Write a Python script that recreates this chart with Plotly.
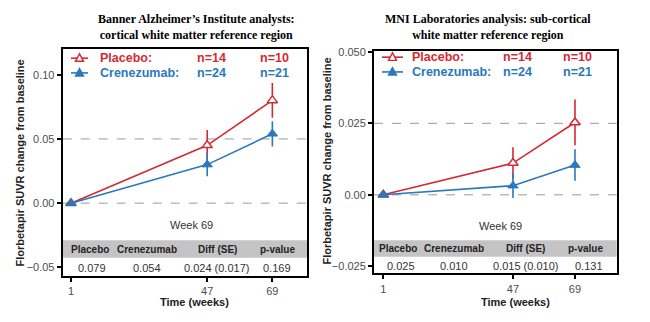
import plotly.graph_objects as go

# ---------------- data ----------------
weeks = [1, 47, 69]
week_ticks = [1, 47, 69]
week_ticktext = ["1", "47", "69"]

left_placebo = [0.0, 0.045, 0.080]
left_placebo_se = [0.0, 0.012, 0.0135]
left_crenezumab = [0.0, 0.030, 0.054]
left_crenezumab_se = [0.0, 0.009, 0.0098]

right_placebo = [0.0, 0.0111, 0.0253]
right_placebo_se = [0.0, 0.0055, 0.008]
right_crenezumab = [0.0, 0.0032, 0.0104]
right_crenezumab_se = [0.0, 0.0043, 0.0055]

left_yticks = [-0.05, 0.0, 0.05, 0.10]
left_yticktext = ["\u22120.05", "0.00", "0.05", "0.10"]
right_yticks = [-0.025, 0.0, 0.025, 0.050]
right_yticktext = ["\u22120.025", "0.00", "0.025", "0.050"]

left_grid = [0.0, 0.05]
right_grid = [0.0, 0.025]

n_placebo = ["n=14", "n=10"]
n_crenezumab = ["n=24", "n=21"]

table_header = ["Placebo", "Crenezumab", "Diff (SE)", "p-value"]
left_table = ["0.079", "0.054", "0.024 (0.017)", "0.169"]
right_table = ["0.025", "0.010", "0.015 (0.010)", "0.131"]

left_title = "Banner Alzheimer\u2019s Institute analysts:<br>cortical white matter reference region"
right_title = "MNI Laboratories analysis: sub-cortical<br>white matter reference region"
y_title = "Florbetapir SUVR change from baseline"
x_title = "Time (weeks)"

# ---------------- style ----------------
W, H = 650, 322
RED = "#d42a34"
BLUE = "#2a78bd"
SANS = "Liberation Sans, Arial, sans-serif"
SERIF = "Liberation Serif, Times New Roman, serif"


def px(x):
    return x / W


def py(y):
    return 1 - y / H


fig = go.Figure()

panels = [
    dict(xa="x", ya="y", xd=[62.7, 307.3], yd=[44.7, 275], xr=[-1.8, 80.8], yr=[-0.0565, 0.12],
         pl=left_placebo, pls=left_placebo_se, cr=left_crenezumab, crs=left_crenezumab_se,
         yt=left_yticks, ytt=left_yticktext, grid=left_grid, tbl=left_table,
         title=left_title, title_x=196.7, ytitle_x=19, ytitle_y=161, xtitle_x=194,
         week_x=191, week_y=223,
         band=[239, 256.7], head_y=248, val_y=267,
         head_x=[90, 147, 217, 277], val_x=[91.7, 146.7, 216.7, 276.7],
         leg_line=[71, 88], leg_y=[54, 69], leg_text_x=98, n_x=[195, 258]),
    dict(xa="x2", ya="y2", xd=[374, 616.7], yd=[46.7, 272.7], xr=[-2.3, 83.8], yr=[-0.0275, 0.0503],
         pl=right_placebo, pls=right_placebo_se, cr=right_crenezumab, crs=right_crenezumab_se,
         yt=right_yticks, ytt=right_yticktext, grid=right_grid, tbl=right_table,
         title=right_title, title_x=487.5, ytitle_x=327, ytitle_y=159, xtitle_x=515,
         week_x=500, week_y=224,
         band=[239, 255.7], head_y=247, val_y=265,
         head_x=[397.7, 454.3, 525.7, 585], val_x=[401, 454, 525.7, 589],
         leg_line=[382, 403], leg_y=[53, 68], leg_text_x=410, n_x=[501, 561]),
]

shapes = []
annotations = []

for i, p in enumerate(panels):
    xa, ya = p["xa"], p["ya"]
    # traces
    fig.add_trace(go.Scatter(
        x=weeks, y=p["pl"], xaxis=xa, yaxis=ya, mode="lines+markers", showlegend=False,
        line=dict(color=RED, width=1.6),
        marker=dict(symbol="triangle-up", size=9, color="white", line=dict(color=RED, width=1.5)),
        error_y=dict(type="data", array=p["pls"], color=RED, thickness=1.6, width=0),
        cliponaxis=False,
    ))
    fig.add_trace(go.Scatter(
        x=weeks, y=p["cr"], xaxis=xa, yaxis=ya, mode="lines+markers", showlegend=False,
        line=dict(color=BLUE, width=1.6),
        marker=dict(symbol="triangle-up", size=9, color=BLUE, line=dict(color=BLUE, width=1)),
        error_y=dict(type="data", array=p["crs"], color=BLUE, thickness=1.6, width=0),
        cliponaxis=False,
    ))

    xref_dom = xa + " domain"
    # dashed reference lines
    for g in p["grid"]:
        shapes.append(dict(type="line", xref=xref_dom, yref=ya, x0=0, x1=1, y0=g, y1=g,
                           line=dict(color="#9a9a9a", width=1, dash="dash"), layer="below"))
    # table header band
    shapes.append(dict(type="rect", xref=xref_dom, yref="paper", x0=0, x1=1,
                       y0=py(p["band"][1]), y1=py(p["band"][0]),
                       fillcolor="#c4c4c4", line=dict(width=0), layer="below"))
    for hx, txt in zip(p["head_x"], table_header):
        annotations.append(dict(x=px(hx), y=py(p["head_y"]), xref="paper", yref="paper",
                                text="<b>" + txt + "</b>", showarrow=False,
                                font=dict(family=SANS, size=10, color="#222222"),
                                xanchor="center", yanchor="middle"))
    for vx, txt in zip(p["val_x"], p["tbl"]):
        annotations.append(dict(x=px(vx), y=py(p["val_y"]), xref="paper", yref="paper",
                                text=txt, showarrow=False,
                                font=dict(family=SANS, size=11, color="#333333"),
                                xanchor="center", yanchor="middle"))
    # Week 69
    annotations.append(dict(x=px(p["week_x"]), y=py(p["week_y"]), xref="paper", yref="paper",
                            text="Week 69", showarrow=False,
                            font=dict(family=SANS, size=11, color="#333333"),
                            xanchor="center", yanchor="middle"))
    # titles
    annotations.append(dict(x=px(p["title_x"]), y=py(22), xref="paper", yref="paper",
                            text="<b>" + p["title"] + "</b>", showarrow=False,
                            font=dict(family=SERIF, size=12, color="black"),
                            xanchor="center", yanchor="middle", align="center"))
    annotations.append(dict(x=px(p["ytitle_x"]), y=py(p["ytitle_y"]), xref="paper", yref="paper",
                            text="<b>" + y_title + "</b>", showarrow=False, textangle=-90,
                            font=dict(family=SANS, size=11, color="#222222"),
                            xanchor="center", yanchor="middle"))
    annotations.append(dict(x=px(p["xtitle_x"]), y=py(302), xref="paper", yref="paper",
                            text="<b>" + x_title + "</b>", showarrow=False,
                            font=dict(family=SANS, size=11, color="#222222"),
                            xanchor="center", yanchor="middle"))
    # legend
    for k, (col, name, ns, filled) in enumerate([(RED, "Placebo:", n_placebo, False),
                                                 (BLUE, "Crenezumab:", n_crenezumab, True)]):
        ly = p["leg_y"][k]
        x0, x1 = p["leg_line"]
        shapes.append(dict(type="line", xref="paper", yref="paper", x0=px(x0), x1=px(x1),
                           y0=py(ly), y1=py(ly), line=dict(color=col, width=1.6)))
        cx = (x0 + x1) / 2
        s = 8
        path = "M {} {} L {} {} L {} {} Z".format(px(cx), py(ly - s * 0.55),
                                                   px(cx - s / 2), py(ly + s * 0.4),
                                                   px(cx + s / 2), py(ly + s * 0.4))
        shapes.append(dict(type="path", xref="paper", yref="paper", path=path,
                           fillcolor=col if filled else "white", line=dict(color=col, width=1.4)))
        annotations.append(dict(x=px(p["leg_text_x"]), y=py(ly), xref="paper", yref="paper",
                                text="<b>" + name + "</b>", showarrow=False,
                                font=dict(family=SANS, size=12.5, color=col),
                                xanchor="left", yanchor="middle"))
        for nx, nt in zip(p["n_x"], ns):
            annotations.append(dict(x=px(nx), y=py(ly), xref="paper", yref="paper",
                                    text="<b>" + nt + "</b>", showarrow=False,
                                    font=dict(family=SANS, size=12.5, color=col),
                                    xanchor="left", yanchor="middle"))

axis_common = dict(showline=True, linecolor="black", linewidth=2, mirror=True,
                   ticks="outside", ticklen=4, tickwidth=1.5, tickcolor="black",
                   showgrid=False, zeroline=False,
                   tickfont=dict(family=SANS, size=11, color="#4d4d4d"))

layout_axes = {}
for i, p in enumerate(panels):
    sfx = "" if i == 0 else "2"
    layout_axes["xaxis" + sfx] = dict(
        axis_common, domain=[px(p["xd"][0]), px(p["xd"][1])], range=p["xr"],
        tickvals=week_ticks, ticktext=week_ticktext, anchor="y" + sfx)
    layout_axes["yaxis" + sfx] = dict(
        axis_common, domain=[py(p["yd"][1]), py(p["yd"][0])], range=p["yr"],
        tickvals=p["yt"], ticktext=p["ytt"], anchor="x" + sfx)

fig.update_layout(
    width=W, height=H, margin=dict(l=0, r=0, t=0, b=0),
    paper_bgcolor="white", plot_bgcolor="white",
    shapes=shapes, annotations=annotations, showlegend=False,
    **layout_axes,
)

fig.write_html("out.html")
